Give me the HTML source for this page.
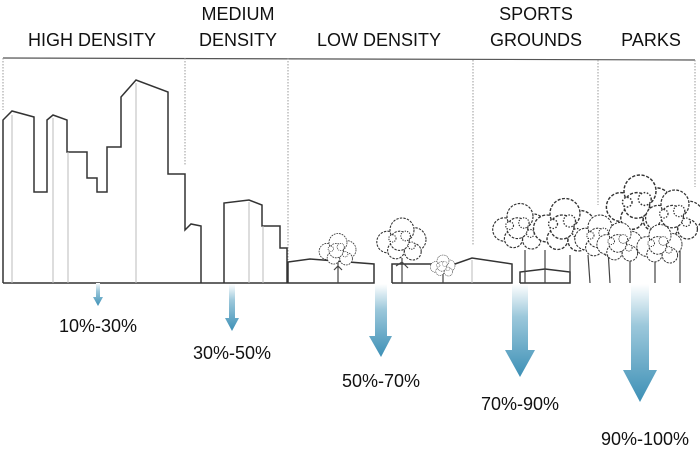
<!DOCTYPE html>
<html><head><meta charset="utf-8"><style>
body{margin:0;background:#fff}
svg{display:block}
text{font-family:"Liberation Sans",sans-serif;fill:#111}
</style></head><body>
<svg width="700" height="450" viewBox="0 0 700 450">
<defs>
<linearGradient id="g" x1="0" y1="0" x2="0" y2="1">
<stop offset="0" stop-color="#fff"/><stop offset="0.35" stop-color="#9cc8db"/><stop offset="1" stop-color="#3d90b6"/></linearGradient>
<g id="tree" fill="#fff" stroke="#333" stroke-width="0.9" stroke-dasharray="2 1">
<circle cx="-12" cy="-5" r="9"/><circle cx="10" cy="-7" r="10"/><circle cx="0" cy="-15" r="10"/><circle cx="-5" cy="2" r="7"/><circle cx="9" cy="3" r="7"/><circle cx="-2" cy="-6" r="8"/>
<circle cx="3" cy="-10" r="4" stroke-dasharray="1 1"/><circle cx="-8" cy="-8" r="3" stroke-dasharray="1 1"/><circle cx="8" cy="-2" r="3" stroke-dasharray="1 1"/>
</g>
</defs>
<g font-size="18" text-anchor="middle">
<text x="92" y="46">HIGH DENSITY</text>
<text x="238" y="20">MEDIUM</text><text x="238" y="46">DENSITY</text>
<text x="379" y="46">LOW DENSITY</text>
<text x="536" y="20">SPORTS</text><text x="536" y="46">GROUNDS</text>
<text x="651" y="46">PARKS</text>
</g>
<line x1="3" y1="58" x2="695" y2="60" stroke="#555" stroke-width="1.2"/>
<g stroke="#999" stroke-dasharray="1.5 1.5" stroke-width="1">
<line x1="3" y1="58" x2="3" y2="110"/>
<line x1="185" y1="58" x2="185" y2="165"/>
<line x1="288" y1="58" x2="288" y2="260"/>
<line x1="473" y1="60" x2="473" y2="245"/>
<line x1="598" y1="60" x2="598" y2="205"/>
<line x1="695" y1="60" x2="695" y2="187"/>
</g>
<g fill="none" stroke="#333" stroke-width="1.5">
<polyline points="3,283 3,120 12,111 34,117 34,192 47,192 47,120 53,115 67,120 67,152 87,152 87,178 97,178 97,192 107,192 107,147 121,147 121,97 136,80 168,92 168,174 185,174 185,230 191,224 201,226 201,283"/>
<polyline points="224,283 224,203 249,200 262,205 262,226 280,226 280,248 287,248 287,283"/>
<line x1="3" y1="283" x2="288" y2="283"/>
<polyline points="288,283 288,262 310,259 374,264 374,283 288,283"/>
<polyline points="392,283 392,264 455,264 472,258 512,264 512,283 392,283"/>
<polyline points="520,283 520,272 545,269 570,272 570,283 520,283"/>
</g>
<g stroke="#bbb" stroke-width="1">
<line x1="12" y1="115" x2="12" y2="283"/><line x1="53" y1="118" x2="53" y2="283"/><line x1="136" y1="83" x2="136" y2="283"/><line x1="68" y1="152" x2="68" y2="283"/><line x1="249" y1="202" x2="249" y2="283"/><line x1="263" y1="226" x2="263" y2="283"/><line x1="472" y1="260" x2="472" y2="283"/>
</g>
<g stroke="#444" stroke-width="1.2" fill="none">
<path d="M338,283 L338,262 M334,270 L338,266 L342,270"/><path d="M402,283 L402,258 M396,266 L402,262 L408,268"/><path d="M443,283 L443,270"/>
<path d="M525,283 L525,250 M545,283 L545,250 M570,283 L570,255 M590,283 L588,255 M610,283 L608,250 M630,283 L630,240 M655,283 L655,245 M680,283 L680,250"/>
</g>
<use href="#tree" transform="translate(338,256) scale(0.9)"/>
<use href="#tree" transform="translate(402,248) scale(1.2)"/>
<use href="#tree" transform="translate(443,270) scale(0.6)"/>
<use href="#tree" transform="translate(520,236) scale(1.3)"/>
<use href="#tree" transform="translate(565,236) scale(1.5)"/>
<use href="#tree" transform="translate(600,245) scale(1.2)"/>
<use href="#tree" transform="translate(640,215) scale(1.6)"/>
<use href="#tree" transform="translate(620,250) scale(1.1)"/>
<use href="#tree" transform="translate(675,225) scale(1.4)"/>
<use href="#tree" transform="translate(660,252) scale(1.1)"/>
<g fill="url(#g)">
<polygon points="96,283 100,283 100,297 103,297 98,306 93,297 96,297"/>
<polygon points="229,284 235,284 235,318 239,318 232,331 225,318 229,318"/>
<polygon points="375,284 387,284 387,336 392,336 381,357 369,336 375,336"/>
<polygon points="512,284 528,284 528,350 535,350 520,377 505,350 512,350"/>
<polygon points="631,284 649,284 649,370 657,370 640,402 623,370 631,370"/>
</g>
<g font-size="18" text-anchor="middle">
<text x="98" y="332">10%-30%</text>
<text x="232" y="359">30%-50%</text>
<text x="381" y="387">50%-70%</text>
<text x="520" y="410">70%-90%</text>
<text x="645" y="445">90%-100%</text>
</g>
</svg>
</body></html>
